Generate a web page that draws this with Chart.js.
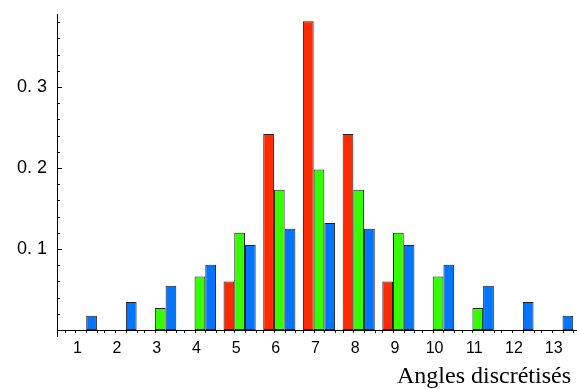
<!DOCTYPE html>
<html>
<head>
<meta charset="utf-8">
<script src="https://cdn.jsdelivr.net/npm/chart.js@4.4.1/dist/chart.umd.min.js"></script>
<style>
  html, body { margin: 0; padding: 0; background: #fff; }
  #wrap { width: 577px; height: 389px; }
</style>
</head>
<body>
<div id="wrap"><canvas id="barChart"></canvas></div>
<script>
// valeurs
const categories = ['1','2','3','4','5','6','7','8','9','10','11','12','13'];
const redValues   = [0, 0, 0, 0, 0.060, 0.242, 0.381, 0.242, 0.060, 0, 0, 0, 0];
const greenValues = [0, 0, 0.027, 0.066, 0.120, 0.173, 0.198, 0.173, 0.120, 0.066, 0.027, 0, 0];
const blueValues  = [0.0177, 0.0346, 0.0547, 0.0806, 0.105, 0.125, 0.132, 0.125, 0.105, 0.0806, 0.0547, 0.0346, 0.0177];
const yTickValues = [0.1, 0.2, 0.3];
const yMinorStep = 0.02;
const yMax = 0.39;
const xTitle = 'Angles discrétisés ';

// axes façon Mathematica : traits dessinés à la main
const axesPlugin = {
  id: 'axesPlugin',
  afterDatasetsDraw(chart) {
    const { ctx, chartArea, scales } = chart;
    const y = scales.y;
    const axisX = chartArea.left - 4;
    const baseY = y.getPixelForValue(0);
    ctx.save();
    ctx.strokeStyle = '#000';
    ctx.lineWidth = 1;
    ctx.beginPath();
    ctx.moveTo(axisX + 0.5, chartArea.top);
    ctx.lineTo(axisX + 0.5, baseY + 7);
    ctx.moveTo(axisX, Math.round(baseY) + 0.5);
    ctx.lineTo(chart.width, Math.round(baseY) + 0.5);
    // petites graduations verticales
    for (let v = yMinorStep; v < yMax; v += yMinorStep) {
      const py = Math.round(y.getPixelForValue(v)) + 0.5;
      const major = yTickValues.some(t => Math.abs(t - v) < 1e-6);
      ctx.moveTo(axisX, py);
      ctx.lineTo(axisX + (major ? 5 : 3), py);
    }
    ctx.stroke();
    // points sous l'axe horizontal, aux bords des barres
    ctx.fillStyle = '#222';
    chart.getDatasetMeta(2).data.forEach(bar => {
      const w = bar.width;
      [-2.5, -1.5, -0.5, 0.5].forEach(k => {
        ctx.fillRect(Math.round(bar.x + k * w), Math.round(baseY) + 1, 1, 2);
      });
    });
    ctx.restore();
  }
};

new Chart(document.getElementById('barChart'), {
  type: 'bar',
  data: {
    labels: categories,
    datasets: [
      { data: redValues, backgroundColor: '#ff2a00' },
      { data: greenValues, backgroundColor: '#33ff00' },
      { data: blueValues, backgroundColor: '#0075ff' }
    ]
  },
  options: {
    responsive: true,
    maintainAspectRatio: false,
    animation: false,
    layout: { padding: { top: 14, right: 0, bottom: 0, left: 0 } },
    datasets: {
      bar: {
        categoryPercentage: 0.81,
        barPercentage: 1.0,
        borderColor: '#222',
        borderWidth: 1,
        borderSkipped: false
      }
    },
    plugins: { legend: { display: false }, tooltip: { enabled: false } },
    scales: {
      x: {
        grid: { display: false, drawTicks: false },
        border: { display: false },
        ticks: {
          color: '#000', padding: 9, labelOffset: -3.5, maxRotation: 0, autoSkip: false,
          font: { family: 'Liberation Sans', size: 16 }
        },
        title: {
          display: true, text: xTitle, align: 'end', color: '#000',
          padding: 0,
          font: { family: 'Liberation Serif', size: 24, lineHeight: 1 }
        },
        afterFit(scale) {
          scale.height = 59;
          scale.paddingLeft = 0;
          scale.paddingRight = 0;
        }
      },
      y: {
        min: 0,
        max: yMax,
        grid: { display: false, drawTicks: false },
        border: { display: false },
        afterBuildTicks(scale) { scale.ticks = yTickValues.map(v => ({ value: v })); },
        ticks: {
          color: '#000', padding: 14,
          font: { family: 'Liberation Sans', size: 18 },
          callback: v => v.toFixed(1).replace('.', '. ')
        },
        afterFit(scale) {
          scale.width = 61;
          scale.paddingTop = 0;
          scale.paddingBottom = 0;
        }
      }
    }
  },
  plugins: [axesPlugin]
});
</script>
</body>
</html>
